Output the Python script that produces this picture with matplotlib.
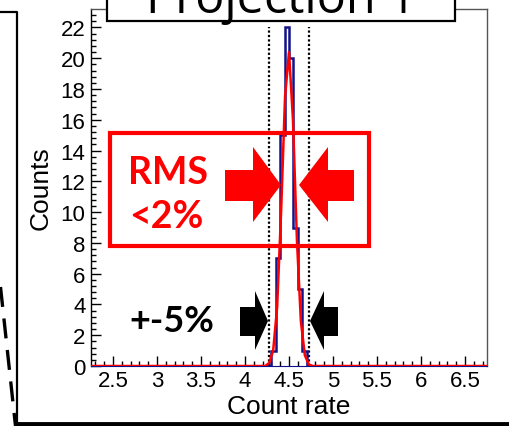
import numpy as np
import matplotlib.pyplot as plt
from matplotlib.patches import Polygon, Rectangle

# histogram (bin width 0.05 over 2.25 .. 6.75)
bin_lo = [4.30, 4.35, 4.40, 4.45, 4.50, 4.55, 4.60, 4.65]
counts = [1, 7, 15, 22, 20, 9, 5, 1]

# gaussian fit as drawn (coarse polyline)
fit_x = [2.25, 4.23, 4.275, 4.32, 4.365, 4.41, 4.455, 4.50, 4.545, 4.59,
         4.635, 4.68, 4.725, 4.77, 6.75]
fit_y = [0.0, 0.0, 0.2, 1.0, 3.8, 10.0, 17.5, 20.4, 16.0, 8.2, 2.9, 0.7,
         0.1, 0.0, 0.0]

band = [4.275, 4.725]   # +-5 % around the mean
x_range = (2.25, 6.75)
y_top = 23.2

W, H = 510, 427
fig = plt.figure(figsize=(W / 100, H / 100), dpi=100)
plt.rcParams['font.family'] = ['Liberation Sans', 'DejaVu Sans']

ax = fig.add_axes([91 / W, 1 - 367 / H, (487 - 91) / W, (367 - 10) / H])

edges = np.round(np.arange(x_range[0], x_range[1] + 1e-9, 0.05), 3)
hist = np.zeros(len(edges) - 1)
for lo, c in zip(bin_lo, counts):
    hist[int(round((lo - x_range[0]) / 0.05))] = c
ax.stairs(hist, edges, color='#12128c', lw=1.8, baseline=None, zorder=3)
ax.plot(fit_x, fit_y, color='#ff0000', lw=1.8, zorder=4)
for b in band:
    ax.plot([b, b], [0, 22], color='black', lw=1.6, ls=(0, (1, 1)), zorder=2)

ax.set_xlim(*x_range)
ax.set_ylim(0, y_top)
ax.set_xticks(np.arange(2.5, 6.6, 0.5))
ax.set_xticklabels(['2.5', '3', '3.5', '4', '4.5', '5', '5.5', '6', '6.5'])
ax.set_xticks(np.arange(2.3, 6.75, 0.1), minor=True)
ax.set_yticks(np.arange(0, 23, 2))
ax.set_yticks(np.arange(0, 23.2, 0.4), minor=True)
ax.tick_params(which='both', direction='in', top=False, right=False,
               labelsize=16, width=1)
ax.tick_params(which='major', length=7)
ax.tick_params(which='minor', length=3.5)
ax.tick_params(axis='x', pad=3)
ax.tick_params(axis='y', pad=4)
for s in ['top', 'right']:
    ax.spines[s].set_color('#555555')
    ax.spines[s].set_linewidth(1)
ax.spines['left'].set_linewidth(1)
ax.spines['bottom'].set_color('#12128c')
ax.set_xlabel('Count rate', fontsize=19, labelpad=2)
ax.set_ylabel('Counts', fontsize=19, labelpad=6)

# overlay in pixel units for the slide decorations
ov = fig.add_axes([0, 0, 1, 1], zorder=5)
ov.set_xlim(0, W)
ov.set_ylim(H, 0)
ov.axis('off')
ov.patch.set_alpha(0)

# outer frame
ov.plot([0, 17, 17], [13, 13, 424], color='black', lw=1.6)
ov.plot([17, W], [424.5, 424.5], color='black', lw=3.5)
ov.plot([0.5, 15.5], [288, 427], color='black', lw=2.4, ls=(0, (6, 3.5)))

# title box
ov.add_patch(Rectangle((107, -10), 348, 32, facecolor='white',
                       edgecolor='black', lw=1.6))
ov.text(281, 13, 'Projection 1', ha='center', va='baseline', fontsize=35,
        family=['Open Sans', 'DejaVu Sans'])

# red RMS box and arrows
red = '#ff0000'
ov.add_patch(Rectangle((110, 134), 259, 113, fill=False, edgecolor=red,
                       lw=3))
ov.text(168, 173, 'RMS', color=red, fontsize=27, fontweight='bold',
        ha='center', va='center', family=['Lato', 'DejaVu Sans'])
ov.text(166, 217, '<2%', color=red, fontsize=27, fontweight='bold',
        ha='center', va='center', family=['Lato', 'DejaVu Sans'])
ov.add_patch(Polygon([(225, 171), (253, 171), (253, 148), (281, 186),
                      (253, 223), (253, 202), (225, 202)], color=red, lw=0))
ov.add_patch(Polygon([(354, 171), (328, 171), (328, 148), (299, 186),
                      (328, 223), (328, 202), (354, 202)], color=red, lw=0))

# black +-5% arrows
ov.text(172, 322, '+-5%', color='black', fontsize=26, fontweight='bold',
        ha='center', va='center', family=['Lato', 'DejaVu Sans'])
ov.add_patch(Polygon([(240, 308), (255, 308), (255, 292), (268, 322),
                      (255, 351), (255, 337), (240, 337)], color='black',
                     lw=0))
ov.add_patch(Polygon([(338, 308), (324, 308), (324, 292), (310, 322),
                      (324, 351), (324, 337), (338, 337)], color='black',
                     lw=0))

fig.savefig('out.png', dpi=100)
